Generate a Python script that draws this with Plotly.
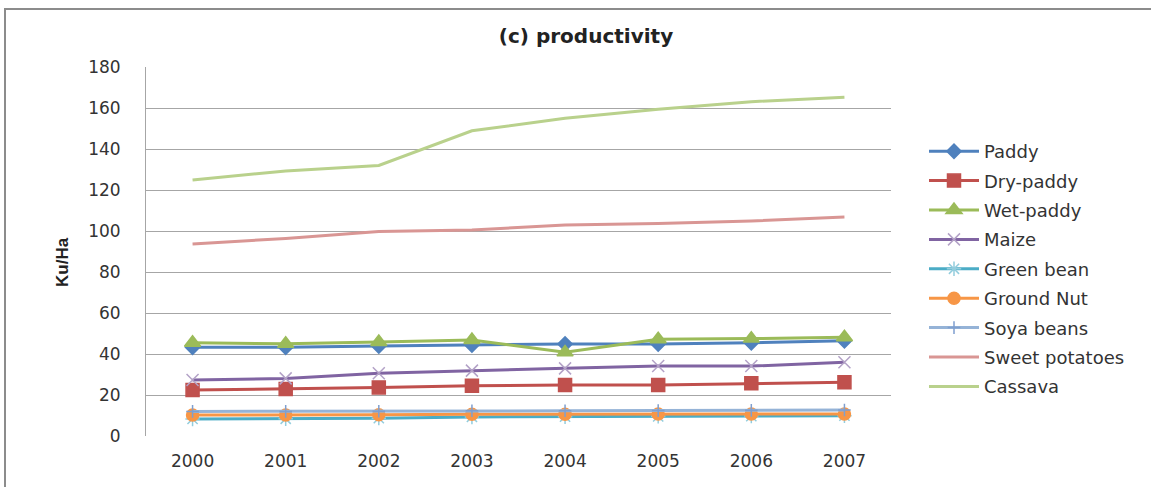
import plotly.graph_objects as go

years = [2000, 2001, 2002, 2003, 2004, 2005, 2006, 2007]
paddy = [43.3, 43.3, 43.9, 44.4, 44.9, 44.9, 45.5, 46.5]
dry_paddy = [22.4, 22.9, 23.7, 24.5, 24.9, 24.9, 25.7, 26.2]
wet_paddy = [45.5, 45.0, 45.9, 46.8, 40.8, 47.2, 47.5, 48.2]
maize = [27.3, 28.1, 30.6, 31.9, 33.0, 34.1, 34.1, 36.0]
green_bean = [8.3, 8.4, 8.7, 9.3, 9.4, 9.6, 9.7, 9.9]
ground_nut = [10.2, 10.2, 10.4, 10.6, 10.6, 10.7, 10.7, 10.7]
soya_beans = [12.0, 12.0, 12.1, 12.3, 12.3, 12.4, 12.5, 12.7]
sweet_potatoes = [93.7, 96.4, 99.7, 100.5, 102.9, 103.7, 104.9, 106.8]
cassava = [124.9, 129.3, 132.0, 148.9, 155.0, 159.4, 163.1, 165.2]

series = [
    ("Paddy", paddy, "#4F81BD", "diamond", "#4F81BD", 11),
    ("Dry-paddy", dry_paddy, "#C0504D", "square", "#C0504D", 13),
    ("Wet-paddy", wet_paddy, "#9BBB59", "triangle-up", "#9BBB59", 14),
    ("Maize", maize, "#8064A2", "x-thin-open", "#B3A2C7", 12),
    ("Green bean", green_bean, "#4BACC6", "asterisk-open", "#93CDDD", 12),
    ("Ground Nut", ground_nut, "#F79646", "circle", "#F79646", 12),
    ("Soya beans", soya_beans, "#95B3D7", "cross-thin-open", "#7F9FCF", 9),
    ("Sweet potatoes", sweet_potatoes, "#D99694", None, None, 0),
    ("Cassava", cassava, "#B9D18C", None, None, 0),
]

fig = go.Figure()
for name, vals, color, sym, mcolor, msize in series:
    if sym:
        marker = dict(symbol=sym, size=msize, color=mcolor,
                      line=dict(color=mcolor, width=1.5))
        mode = "lines+markers"
    else:
        marker = None
        mode = "lines"
    fig.add_trace(go.Scatter(
        x=years, y=vals, name=name, mode=mode, legendgroup=name,
        line=dict(color=color, width=3), marker=marker,
    ))

L, R, T, B = 146, 260, 67, 51
W, H = 1151, 487
pw, ph = W - L - R, H - T - B

fig.update_layout(
    width=W, height=H,
    margin=dict(l=L, r=R, t=T, b=B),
    paper_bgcolor="white", plot_bgcolor="white",
    font=dict(family="DejaVu Sans", size=15, color="#333333"),
    title=dict(text="<b>(c) productivity</b>", x=586 / W, xanchor="center",
               y=1 - 36 / H, yanchor="middle",
               font=dict(family="DejaVu Sans", size=20, color="#222222")),
    xaxis=dict(
        range=[1999.5, 2007.5], tickmode="array", tickvals=years,
        ticktext=[str(y) for y in years], showgrid=False, zeroline=False,
        showline=False, ticks="", ticklabelstandoff=13,
        tickfont=dict(size=17, color="#333333"),
    ),
    yaxis=dict(
        range=[0, 180], dtick=20, showgrid=True, gridcolor="#A6A6A6",
        gridwidth=1, zeroline=False, showline=True, linecolor="#A6A6A6",
        linewidth=1, ticks="", ticklabelstandoff=21,
        tickfont=dict(size=17, color="#333333"),
    ),
    legend=dict(
        x=(924 - L) / pw, xanchor="left", y=(436 - 133) / ph,
        yanchor="top", tracegroupgap=3, itemwidth=50,
        font=dict(family="DejaVu Sans", size=18, color="#333333"),
        bgcolor="rgba(0,0,0,0)",
    ),
    showlegend=True,
)

# outer chart border
fig.add_shape(type="rect", xref="paper", yref="paper",
              x0=(5 - L) / pw, x1=(1200 - L) / pw,
              y0=(436 - 520) / ph, y1=(436 - 9) / ph,
              line=dict(color="#8C8C8C", width=2), layer="below")

fig.add_annotation(text="<b>Ku/Ha</b>", xref="paper", yref="paper",
                   x=(62 - L) / pw, y=(436 - 262) / ph, textangle=-90,
                   showarrow=False, xanchor="center", yanchor="middle",
                   font=dict(family="Liberation Sans Narrow, Liberation Sans", size=17, color="#222222"))

fig.write_html("out.html")
